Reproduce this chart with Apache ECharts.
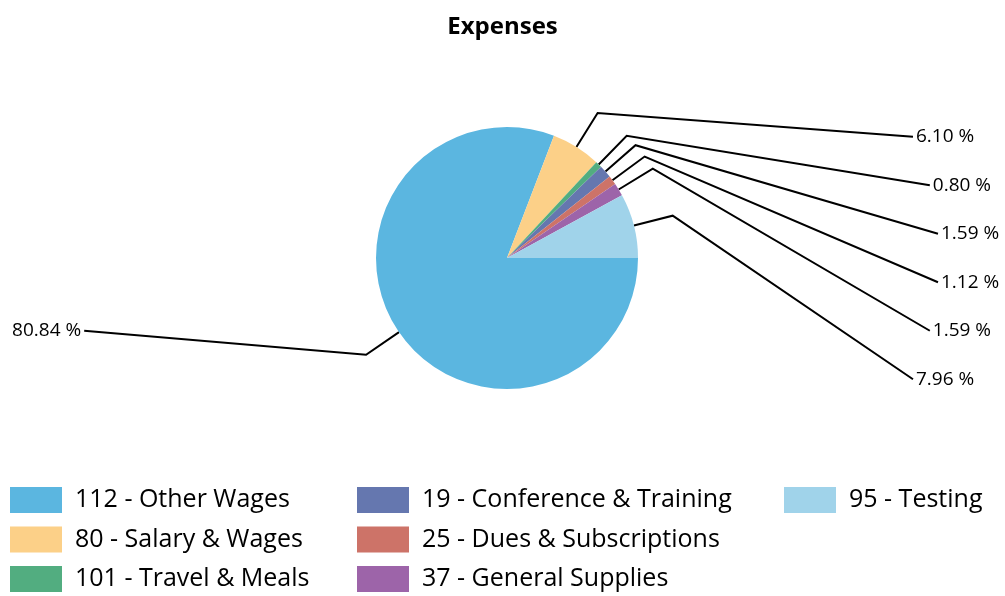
<!DOCTYPE html>
<html><head><meta charset="utf-8">
<script src="https://cdn.jsdelivr.net/npm/echarts@6/dist/echarts.min.js"></script>
<style>html,body{margin:0;padding:0;background:#fff}#c{width:1005px;height:596px}</style>
</head><body><div id="c"></div>
<script>
const categories = ['112 - Other Wages','80 - Salary & Wages','101 - Travel & Meals','19 - Conference & Training','25 - Dues & Subscriptions','37 - General Supplies','95 - Testing'];
const values = [80.84, 6.10, 0.80, 1.59, 1.12, 1.59, 7.96];
const colors = ['#5BB6E0','#FCD088','#52AD80','#6577AF','#CD7368','#9D64A9','#A0D3EA'];

const FONT = '"Open Sans", "Noto Sans", sans-serif';
const CX = 507, CY = 258, R = 131, ELBOW = 171;
const SLOT = 48.5, A = 432, K = 1.4826;
let lastRightSlot = -99;

const chart = echarts.init(document.getElementById('c'), null, {renderer:'canvas'});
function lineEndOffset(dy){ return Math.sqrt(Math.max(0, A*A - dy*dy*K)); }

const data = categories.map((n,i)=>({name:n, value:values[i], itemStyle:{color:colors[i]}}));

function legend(idx, left){
  return {
    orient:'vertical', left:left, top:487, padding:0,
    itemWidth:52, itemHeight:26, itemGap:13.5, icon:'rect',
    selectedMode:false,
    data: idx.map(i=>categories[i]),
    textStyle:{fontFamily:FONT, fontSize:25, color:'#000', lineHeight:26, padding:[0,0,0,8]}
  };
}

chart.setOption({
  animation:false,
  title:{text:'Expenses', left:'center', top:10, textStyle:{fontFamily:FONT, fontSize:24, fontWeight:'bold', color:'#000'}},
  legend:[legend([0,1,2],10), legend([3,4,5],357), legend([6],784)],
  series:[{
    type:'pie', center:[CX,CY], radius:R, startAngle:0, clockwise:true,
    data:data,
    label:{show:true, position:'outside', fontFamily:FONT, fontSize:19, color:'#000',
      formatter:p=>p.percent.toFixed(2)+' %'},
    labelLine:{show:true, length:40, length2:20, lineStyle:{color:'#000', width:2}},
    emphasis:{disabled:true},
    labelLayout:function(p){
      const pts = p.labelLinePoints;
      if(!pts) return {};
      const p0 = pts[0];
      const dx = p0[0]-CX, dy = p0[1]-CY;
      const s = ELBOW/R;
      const p1 = [CX+dx*s, CY+dy*s];
      const right = dx >= 0;
      let slot = Math.round((p1[1]-(CY-2.5*SLOT))/SLOT);
      if(right){
        if(p.dataIndex===1) lastRightSlot=-99;
        slot = Math.max(slot, lastRightSlot+1);
        lastRightSlot = slot;
      }
      const y = CY + (slot-2.5)*SLOT;
      const off = lineEndOffset(y-CY);
      const ex = right ? CX+off : CX-off;
      return {
        x: right ? ex+3 : ex-3, y:y,
        align: right ? 'left' : 'right', verticalAlign:'middle',
        labelLinePoints:[p0, p1, [ex,y]]
      };
    }
  }]
});
</script></body></html>
